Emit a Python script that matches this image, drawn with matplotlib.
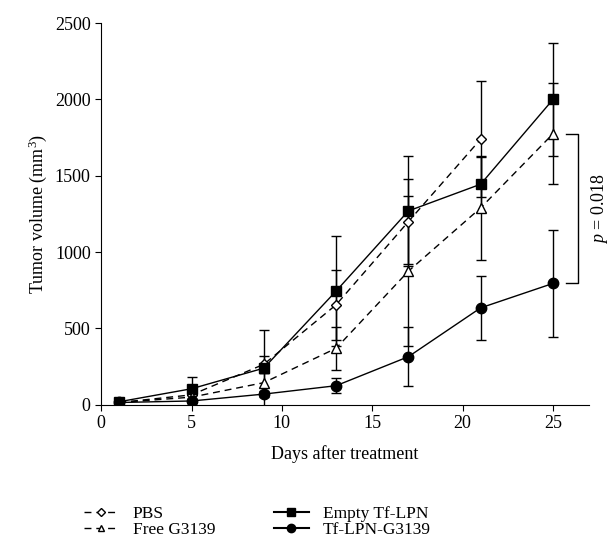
import numpy as np
import matplotlib.pyplot as plt
from matplotlib.lines import Line2D

plt.rcParams['font.family'] = ['Liberation Serif', 'DejaVu Serif']
plt.rcParams['mathtext.fontset'] = 'custom'
plt.rcParams['mathtext.rm'] = 'Liberation Serif'
plt.rcParams['mathtext.it'] = 'Liberation Serif:italic'
plt.rcParams['lines.dashed_pattern'] = [5, 3.5]

days = [1, 5, 9, 13, 17, 21, 25]

pbs = [15, 65, 265, 655, 1200, 1740]
pbs_err = [10, 30, 55, 230, 280, 380]

free = [15, 50, 145, 370, 875, 1290, 1775]
free_err = [10, 25, 60, 140, 490, 340, 330]

empty = [20, 105, 240, 745, 1270, 1445, 2000]
empty_err = [10, 80, 250, 360, 360, 180, 370]

tf = [15, 25, 70, 125, 315, 635, 795]
tf_err = [8, 15, 20, 50, 195, 210, 350]

fig, ax = plt.subplots(figsize=(6.13, 5.39), dpi=100)
fig.subplots_adjust(left=0.165, right=0.961, bottom=0.249, top=0.957)

kw = dict(color='black', lw=1, elinewidth=1, capsize=3.5, capthick=1)
ax.errorbar(days[:6], pbs, yerr=pbs_err, ls='--', marker='D', ms=5,
            mfc='white', mec='black', **kw)
ax.errorbar(days, empty, yerr=empty_err, ls='-', marker='s', ms=7,
            mfc='black', mec='black', **kw)
ax.errorbar(days, free, yerr=free_err, ls='--', marker='^', ms=7,
            mfc='white', mec='black', **kw)
ax.errorbar(days, tf, yerr=tf_err, ls='-', marker='o', ms=7.5,
            mfc='black', mec='black', **kw)

# significance bracket
ax.plot([25.7, 26.4, 26.4, 25.7], [free[-1], free[-1], tf[-1], tf[-1]],
        color='black', lw=1, clip_on=False)
ax.text(27.6, (free[-1] + tf[-1]) / 2, r'$p$ = 0.018', rotation=90,
        ha='center', va='center', fontsize=13)

ax.set_xlim(0, 27)
ax.set_ylim(0, 2500)
ax.set_xticks([0, 5, 10, 15, 20, 25])
ax.set_yticks([0, 500, 1000, 1500, 2000, 2500])
ax.spines['top'].set_visible(False)
ax.spines['right'].set_visible(False)
ax.tick_params(labelsize=13, direction='out', length=4)
ax.set_xlabel('Days after treatment', fontsize=13, labelpad=9)
ax.set_ylabel(r'Tumor volume (mm$^3$)', fontsize=13)

handles = [
    Line2D([], [], color='black', lw=1, ls='--', marker='D', ms=4, mfc='white'),
    Line2D([], [], color='black', lw=1, ls='--', marker='^', ms=5, mfc='white'),
    Line2D([], [], color='black', lw=1.5, ls='-', marker='s', ms=6, mfc='black'),
    Line2D([], [], color='black', lw=1.5, ls='-', marker='o', ms=6, mfc='black'),
]
labels = ['PBS', 'Free G3139', 'Empty Tf-LPN', 'Tf-LPN-G3139']
fig.legend(handles, labels, loc='upper left', bbox_to_anchor=(0.137, 0.062),
           ncol=2, frameon=False, fontsize=12.5, handlelength=2.0,
           columnspacing=3.4, labelspacing=0.0, borderaxespad=0,
           borderpad=0)

plt.savefig('out.png')
